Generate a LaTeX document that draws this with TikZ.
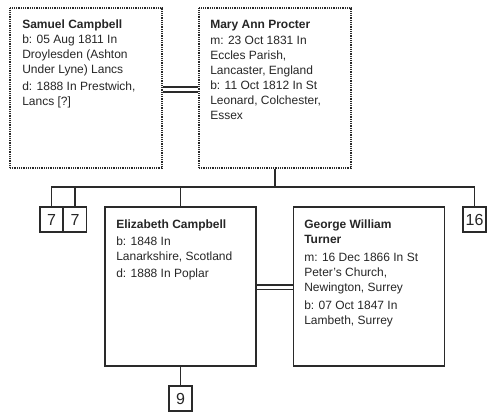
\documentclass[tikz,border=0pt]{standalone}
\usepackage{fontspec}
\setmainfont{Liberation Sans}
\definecolor{ln}{HTML}{2A2A2A}
\definecolor{tx}{HTML}{262626}
\begin{document}
\begin{tikzpicture}[x=0.75pt,y=-0.75pt,
  dotbox/.style={draw=ln, line width=0.9pt, dash pattern=on 0.75pt off 0.6pt, inner sep=0, minimum width=114pt, minimum height=120pt},
  solidbox/.style={draw=ln, line width=1.1pt, inner sep=0, minimum width=113.5pt, minimum height=119.25pt},
  numbox/.style={draw=ln, line width=1.1pt, inner sep=0, minimum width=17.5pt, minimum height=18.75pt, font=\fontsize{12}{12}\selectfont, text=tx},
  info/.style={anchor=north west, inner sep=0, align=left, text=tx, font=\fontsize{9}{11.25}\selectfont},
  conn/.style={draw=ln, line width=1.1pt}]
\useasboundingbox (0,0) rectangle (488,414);
% top couple
\node[dotbox] (sam) at (86,88) {};
\node[dotbox] (mary) at (275,88) {};
\node[info] (samtext) at (22,20) {\textbf{Samuel Campbell}\\b: 05 Aug 1811 In\\Droylesden (Ashton\\Under Lyne) Lancs\\[1.5pt]d: 1888 In Prestwich,\\Lancs [?]};
\node[info] (marytext) at (210,20) {\textbf{Mary Ann Procter}\\[1pt]m: 23 Oct 1831 In\\Eccles Parish,\\Lancaster, England\\b: 11 Oct 1812 In St\\Leonard, Colchester,\\Essex};
% children row
\node[numbox] (s7a) at (51.5,219.5) {7};
\node[numbox] (s7b) at (75,219.5) {7};
\node[solidbox] (eliz) at (180.5,286.5) {};
\node[solidbox] (geo) at (369,286.5) {};
\node[numbox] (s16) at (474.5,219.5) {16};
\node[info] (eliztext) at (116,220) {\textbf{Elizabeth Campbell}\\[1pt]b: 1848 In\\Lanarkshire, Scotland\\[2pt]d: 1888 In Poplar};
\node[info] (geotext) at (304,220) {\textbf{George William}\\\textbf{Turner}\\[2pt]m: 16 Dec 1866 In St\\Peter's Church,\\Newington, Surrey\\[2pt]b: 07 Oct 1847 In\\Lambeth, Surrey};
\node[numbox] (s9) at (180.5,398.5) {9};
% marriage lines
\coordinate (m1) at (0,87);
\coordinate (m2) at (0,92);
\coordinate (m3) at (0,285);
\coordinate (m4) at (0,289.5);
\draw[conn] (sam.east |- m1) -- (mary.west |- m1);
\draw[conn] (sam.east |- m2) -- (mary.west |- m2);
\draw[conn] (eliz.east |- m3) -- (geo.west |- m3);
\draw[conn] (eliz.east |- m4) -- (geo.west |- m4);
% family lines
\coordinate (fam) at (275,187);
\draw[conn] (mary.south) -- (fam);
\draw[conn] (s7a.north) -- (s7a.north |- fam) -- (s16.north |- fam) -- (s16.north);
\draw[conn] (s7b.north) -- (s7b.north |- fam);
\draw[conn] (eliz.north) -- (eliz.north |- fam);
\draw[conn] (eliz.south) -- (s9.north);
\end{tikzpicture}
\end{document}
